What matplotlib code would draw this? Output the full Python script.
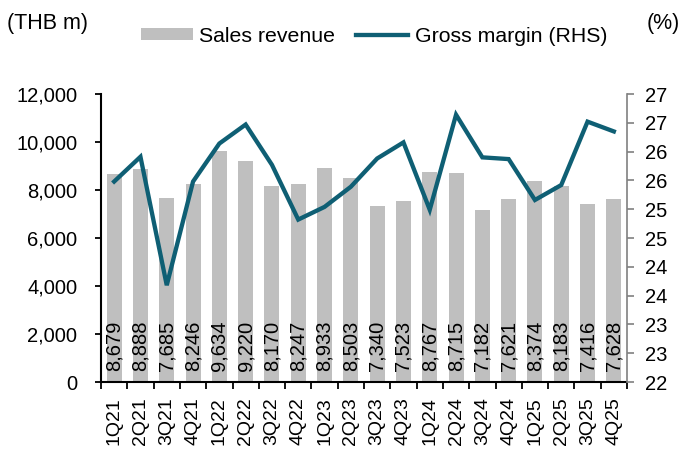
import matplotlib
matplotlib.use("Agg")
import matplotlib.pyplot as plt
from matplotlib.ticker import FixedLocator, FuncFormatter
import numpy as np
import math

plt.rcParams['font.family'] = ['Liberation Sans', 'DejaVu Sans']

quarters = ["1Q21", "2Q21", "3Q21", "4Q21", "1Q22", "2Q22", "3Q22", "4Q22",
            "1Q23", "2Q23", "3Q23", "4Q23", "1Q24", "2Q24", "3Q24", "4Q24",
            "1Q25", "2Q25", "3Q25", "4Q25"]
sales_revenue = [8679, 8888, 7685, 8246, 9634, 9220, 8170, 8247,
                 8933, 8503, 7340, 7523, 8767, 8715, 7182, 7621,
                 8374, 8183, 7416, 7628]
gross_margin = [25.48, 25.91, 23.68, 25.48, 26.14, 26.47, 25.77, 24.82,
                25.04, 25.39, 25.88, 26.16, 24.99, 26.64, 25.90, 25.87,
                25.16, 25.42, 26.52, 26.35]

bar_color = "#BFBFBF"
line_color = "#0F5F74"
gray_axis = "#808080"

fig = plt.figure(figsize=(6.8, 4.5), dpi=100)
ax = fig.add_axes([101/680, 1-382/450, (627-101)/680, (382-94)/450])
ax2 = ax.twinx()

x = np.arange(len(quarters))
bars = ax.bar(x, sales_revenue, width=0.57, color=bar_color, label="Sales revenue", zorder=1)
line, = ax2.plot(x, gross_margin, color=line_color, lw=3.1, label="Gross margin (RHS)",
                 solid_joinstyle='miter', zorder=3)

for xi, v in zip(x, sales_revenue):
    ax.annotate(f"{v:,}", xy=(xi, 0), xytext=(0, 8), textcoords='offset points',
                rotation=90, ha='center', va='bottom', fontsize=14.5, color='black', zorder=2)

ax.set_xlim(-0.5, len(quarters) - 0.5)
ax.set_ylim(0, 12000)
ax.set_yticks(np.arange(0, 12001, 2000))
ax.yaxis.set_major_formatter(FuncFormatter(lambda v, p: f"{int(v):,}"))
ax.set_xticks(x)
ax.set_xticklabels(quarters, rotation=90, fontsize=14)
ax.xaxis.set_minor_locator(FixedLocator(np.arange(-0.5, len(quarters), 1.0)))
ax.tick_params(axis='x', which='major', length=0, pad=11)
ax.tick_params(axis='x', which='minor', length=5, width=1.3, direction='out', color='black')
ax.tick_params(axis='y', length=4, width=1.3, direction='out', labelsize=14.5, color='black', pad=13)

ax2.set_ylim(22, 27)
ax2.yaxis.set_major_locator(FixedLocator(np.arange(22, 27.01, 0.5)))
ax2.yaxis.set_major_formatter(FuncFormatter(lambda v, p: f"{int(math.floor(v + 0.5))}"))
ax2.tick_params(axis='y', length=5, width=1.2, direction='out', labelsize=14.5, color=gray_axis, pad=8)

ax.spines['top'].set_visible(False)
ax2.spines['top'].set_visible(False)
ax.spines['right'].set_visible(False)
ax2.spines['left'].set_visible(False)
ax2.spines['bottom'].set_visible(False)
ax.spines['left'].set_linewidth(1.5)
ax.spines['bottom'].set_linewidth(1.5)
ax2.spines['right'].set_color(gray_axis)
ax2.spines['right'].set_linewidth(1.2)

ax.set_zorder(ax2.get_zorder() - 1)
ax.patch.set_visible(True)
ax2.patch.set_visible(False)

fig.text(7/680, 1-24/450, "(THB m)", fontsize=15.5, ha='left', va='center')
fig.text(680/680, 1-23/450, "(%)", fontsize=15.5, ha='right', va='center')

fig.legend(handles=[bars, line], labels=["Sales revenue", "Gross margin (RHS)"],
           loc='center', bbox_to_anchor=(374/680, 1-36/450), ncol=2, frameon=False,
           fontsize=15.3, handlelength=2.45, handleheight=0.5, columnspacing=1.0,
           handletextpad=0.3, borderpad=0.2)

fig.savefig("out.png", dpi=100)
